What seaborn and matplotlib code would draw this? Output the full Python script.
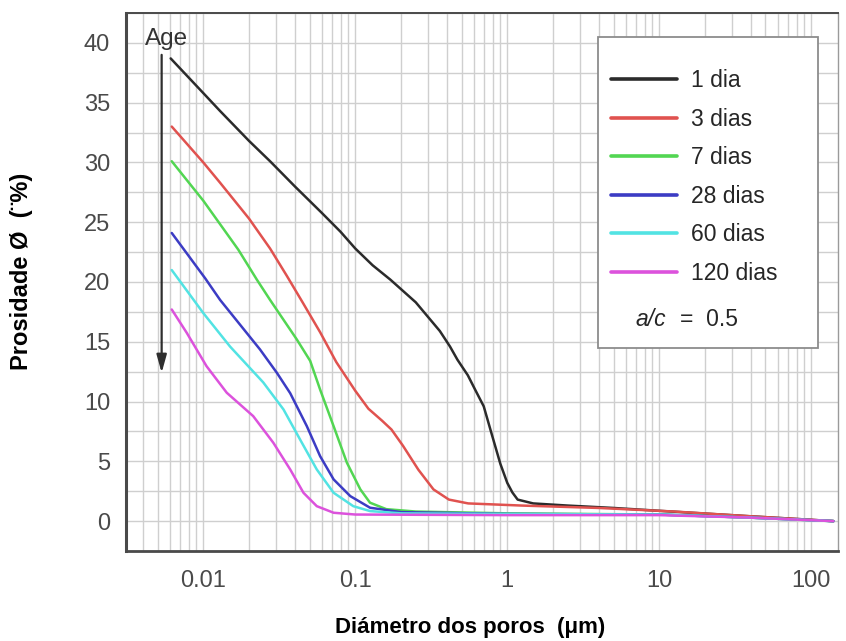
import numpy as np
import pandas as pd
import matplotlib
matplotlib.use("Agg")
import matplotlib.pyplot as plt
import seaborn as sns
from matplotlib.patches import Rectangle
from matplotlib.ticker import LogLocator, FixedLocator, MultipleLocator, NullFormatter

# ---------------- data ----------------
ages = ["1 dia", "3 dias", "7 dias", "28 dias", "60 dias", "120 dias"]
colors = ["#2b2b2b", "#e0524f", "#52d652", "#3c3cc4", "#52e3e3", "#dc52dc"]

d1_x = [0.0061, 0.01, 0.0129, 0.02, 0.0275, 0.04, 0.06, 0.08, 0.1, 0.13, 0.17, 0.2, 0.25, 0.3, 0.36,
        0.42, 0.47, 0.55, 0.62, 0.7, 0.785, 0.9, 1.0, 1.08, 1.17, 1.48, 2.5, 5, 12, 38, 140]
d1_y = [38.7, 35.8, 34.3, 31.8, 30.1, 28.0, 25.8, 24.2, 22.8, 21.4, 20.2, 19.4, 18.3, 17.1, 15.9,
        14.6, 13.5, 12.2, 10.9, 9.6, 7.4, 4.8, 3.2, 2.4, 1.8, 1.48, 1.3, 1.1, 0.8, 0.42, 0.0]

d3_x = [0.0062, 0.01, 0.0129, 0.02, 0.0275, 0.0355, 0.045, 0.0587, 0.075, 0.1, 0.122, 0.15, 0.173,
        0.206, 0.26, 0.327, 0.413, 0.553, 1.25, 4, 12.6, 38, 140]
d3_y = [33.0, 30.0, 28.3, 25.3, 22.8, 20.5, 18.3, 15.8, 13.3, 10.9, 9.4, 8.4, 7.66,
        6.3, 4.3, 2.65, 1.8, 1.48, 1.3, 1.1, 0.8, 0.42, 0.0]

d7_x = [0.0062, 0.01, 0.017, 0.0225, 0.0275, 0.0412, 0.0505, 0.0587, 0.072, 0.0881, 0.108, 0.125,
        0.16, 0.25, 1, 10, 38, 140]
d7_y = [30.1, 26.8, 22.7, 20.2, 18.5, 15.2, 13.4, 11.0, 7.94, 4.88, 2.65, 1.54,
        1.0, 0.8, 0.65, 0.55, 0.3, 0.0]

d28_x = [0.0062, 0.0103, 0.0129, 0.0236, 0.0305, 0.0373, 0.048, 0.0587, 0.072, 0.0927, 0.125,
         0.2, 1, 10, 38, 140]
d28_y = [24.1, 20.3, 18.5, 14.36, 12.4, 10.7, 7.94, 5.43, 3.49, 2.09, 1.12,
         0.75, 0.6, 0.55, 0.3, 0.0]

d60_x = [0.0062, 0.01, 0.015, 0.0248, 0.0337, 0.0433, 0.0558, 0.072, 0.097, 0.125, 0.2, 1, 10, 38, 140]
d60_y = [21.0, 17.4, 14.6, 11.6, 9.34, 6.83, 4.32, 2.37, 1.25, 0.84, 0.65, 0.6, 0.55, 0.3, 0.0]

d120_x = [0.0062, 0.00778, 0.0105, 0.01426, 0.0213, 0.0289, 0.0373, 0.0456, 0.0558, 0.072, 0.1,
          1, 10, 38, 140]
d120_y = [17.7, 15.75, 12.96, 10.74, 8.78, 6.55, 4.32, 2.37, 1.25, 0.70, 0.55,
          0.5, 0.5, 0.3, 0.0]

series_x = [d1_x, d3_x, d7_x, d28_x, d60_x, d120_x]
series_y = [d1_y, d3_y, d7_y, d28_y, d60_y, d120_y]

x_ticks = [0.01, 0.1, 1, 10, 100]
x_tick_labels = ["0.01", "0.1", "1", "10", "100"]
y_ticks = [0, 5, 10, 15, 20, 25, 30, 35, 40]
y_tick_labels = [str(v) for v in y_ticks]

# ---------------- figure ----------------
sns.set_theme(style="white")
plt.rcParams['font.family'] = ['Liberation Sans', 'DejaVu Sans']

W, H = 846, 641
fig = plt.figure(figsize=(W / 100, H / 100), dpi=100)
L, R, T, B = 126, 838, 13, 551
ax = fig.add_axes([L / W, 1 - B / H, (R - L) / W, (B - T) / H])

frames = [pd.DataFrame({"d": xs, "p": ys, "age": a}) for a, xs, ys in zip(ages, series_x, series_y)]
df = pd.concat(frames, ignore_index=True)

sns.lineplot(data=df, x="d", y="p", hue="age", hue_order=ages, palette=colors,
             estimator=None, sort=True, lw=1.8, ax=ax, legend=False)

ax.set_xscale("log")
ax.set_xlim(0.0031, 150)
ax.set_ylim(-2.5, 42.5)

ax.xaxis.set_major_locator(FixedLocator(x_ticks))
ax.set_xticklabels(x_tick_labels)
ax.xaxis.set_minor_locator(LogLocator(base=10, subs=np.arange(2, 10), numticks=20))
ax.xaxis.set_minor_formatter(NullFormatter())
ax.yaxis.set_major_locator(FixedLocator(y_ticks))
ax.set_yticklabels(y_tick_labels)
ax.yaxis.set_minor_locator(MultipleLocator(2.5))

ax.grid(which="both", color="#cfcfcf", lw=1.0)
ax.set_axisbelow(True)

for side in ["left", "bottom", "top", "right"]:
    ax.spines[side].set_visible(True)
    ax.spines[side].set_color("#4a4a4a")
ax.spines["left"].set_linewidth(2.2)
ax.spines["bottom"].set_linewidth(2.0)
ax.spines["top"].set_linewidth(1.4)
ax.spines["right"].set_linewidth(1.0)
ax.spines["right"].set_color("#9a9a9a")

ax.tick_params(axis="both", which="major", direction="out", length=6.5, width=1.6,
               color="#3a3a3a", labelsize=17, labelcolor="#4a4a4a", pad=5)
ax.tick_params(axis="both", which="minor", direction="out", length=3.5, width=1.4, color="#3a3a3a")
ax.tick_params(axis="x", which="major", pad=7)

ax.set_xlabel("Diámetro dos poros  (μm)", fontsize=16, fontweight="bold", color="black")
ax.set_ylabel("Prosidade Ø  (¨%)", fontsize=17, fontweight="bold", color="black")
ax.xaxis.set_label_coords((470 - L) / (R - L), (B - 617) / (B - T))
ax.yaxis.set_label_coords((33 - L) / (R - L), (B - 271) / (B - T))

# Age arrow
ax.annotate("", xy=(0.00532, 12.4), xytext=(0.00532, 39.0),
            arrowprops=dict(arrowstyle="-|>,head_length=0.9,head_width=0.25", color="#2e2e2e", lw=1.6,
                            shrinkA=0, shrinkB=0))
ax.text(0.00574, 39.85, "Age", ha="center", va="baseline", fontsize=17.5, color="#333333")

# legend box
fig.patches.append(Rectangle((598 / W, 1 - 348 / H), 220 / W, 311 / H, transform=fig.transFigure,
                             facecolor="white", edgecolor="#8c8c8c", lw=1.3, zorder=3))
handles = ax.get_lines()[:6]
leg = fig.legend(handles, ages, loc="upper left", bbox_to_anchor=(611 / W, 1 - 69 / H),
                 bbox_transform=fig.transFigure, frameon=False, fontsize=16.5,
                 handlelength=2.9, handletextpad=0.6, labelspacing=0.68,
                 borderpad=0, borderaxespad=0)
leg.set_zorder(5)
for ln in leg.get_lines():
    ln.set_linewidth(2.6)
fig.text(635 / W, 1 - 320 / H, "a/c", fontsize=16.5, style="italic", va="center", ha="left", zorder=6)
fig.text(680 / W, 1 - 320 / H, "=  0.5", fontsize=16.5, va="center", ha="left", zorder=6)

fig.savefig("out.png", dpi=100)
